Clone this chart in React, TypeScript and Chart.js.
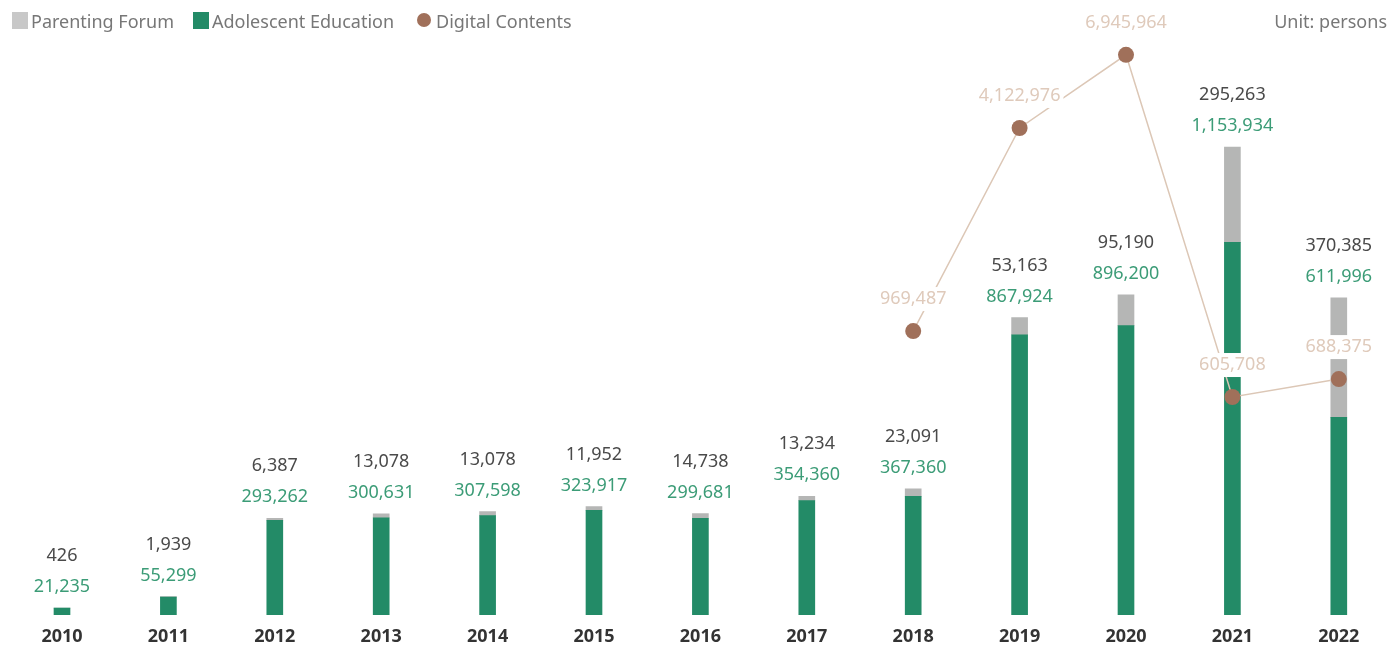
import React, { useEffect, useRef } from "react";
import { Chart, registerables } from "chart.js";

Chart.register(...registerables);

const years = ["2010", "2011", "2012", "2013", "2014", "2015", "2016", "2017", "2018", "2019", "2020", "2021", "2022"];
const parentingForum = [426, 1939, 6387, 13078, 13078, 11952, 14738, 13234, 23091, 53163, 95190, 295263, 370385];
const adolescentEducation = [21235, 55299, 293262, 300631, 307598, 323917, 299681, 354360, 367360, 867924, 896200, 1153934, 611996];
const digitalContents: (number | null)[] = [null, null, null, null, null, null, null, null, 969487, 4122976, 6945964, 605708, 688375];

const GREEN = "#238b67";
const GREY = "#b5b6b5";
const BROWN = "#a0705a";
const LINE = "#dcc7b6";
const GREEN_TEXT = "#3c9c77";
const DARK_TEXT = "#4a4a4a";
const LINE_TEXT = "#dfcabb";
const FONT = "'Noto Sans', sans-serif";

const fmt = (v: number) => v.toLocaleString("en-US");

const labelPlugin = {
  id: "valueLabels",
  afterDatasetsDraw(chart: any) {
    const ctx = chart.ctx;
    const x = chart.scales.x;
    const y = chart.scales.y;
    const y1 = chart.scales.y1;
    ctx.save();
    ctx.font = `18px ${FONT}`;
    ctx.textAlign = "center";
    ctx.textBaseline = "middle";
    years.forEach((_, i) => {
      const px = x.getPixelForValue(i);
      const top = y.getPixelForValue(adolescentEducation[i] + parentingForum[i]);
      ctx.fillStyle = GREEN_TEXT;
      ctx.fillText(fmt(adolescentEducation[i]), px, top - 21);
      ctx.fillStyle = DARK_TEXT;
      ctx.fillText(fmt(parentingForum[i]), px, top - 52);
    });
    digitalContents.forEach((v, i) => {
      if (v == null) return;
      const px = x.getPixelForValue(i);
      const py = y1.getPixelForValue(v) - 32;
      const t = fmt(v);
      const w = ctx.measureText(t).width + 6;
      ctx.fillStyle = "#ffffff";
      ctx.fillRect(px - w / 2, py - 12, w, 24);
      ctx.fillStyle = LINE_TEXT;
      ctx.fillText(t, px, py);
    });
    ctx.restore();
  },
};

const W = 1396;
const H = 652;

export default function App() {
  const ref = useRef<HTMLCanvasElement | null>(null);

  useEffect(() => {
    document.body.style.margin = "8px 0 0 0";
    document.body.style.overflow = "hidden";
    if (!ref.current) return;
    const chart = new Chart(ref.current, {
      type: "bar",
      data: {
        labels: years,
        datasets: [
          {
            type: "line",
            label: "Digital Contents",
            data: digitalContents,
            yAxisID: "y1",
            borderColor: LINE,
            borderWidth: 1.5,
            backgroundColor: BROWN,
            pointBackgroundColor: BROWN,
            pointBorderWidth: 0,
            pointRadius: 8,
            order: 0,
          } as any,
          {
            label: "Adolescent Education",
            data: adolescentEducation,
            backgroundColor: GREEN,
            stack: "s",
            barThickness: 16,
            yAxisID: "y",
            order: 1,
          },
          {
            label: "Parenting Forum",
            data: parentingForum,
            backgroundColor: GREY,
            stack: "s",
            barThickness: 16,
            yAxisID: "y",
            order: 2,
          },
        ],
      },
      options: {
        animation: false,
        responsive: false,
        maintainAspectRatio: false,
        layout: { autoPadding: false, padding: { top: 0, bottom: 1.4, left: 8.8, right: 4 } },
        plugins: {
          legend: { display: false },
          tooltip: { enabled: false },
        },
        scales: {
          x: {
            stacked: true,
            grid: { display: false, drawTicks: false },
            border: { display: false },
            ticks: {
              padding: 11,
              color: "#333333",
              font: { family: FONT, size: 18, weight: "bold" },
            },
          },
          y: {
            stacked: true,
            display: false,
            min: 0,
            max: 1880000,
          },
          y1: {
            type: "logarithmic",
            display: false,
            min: 128060,
            max: 9697000,
          },
        },
      },
      plugins: [labelPlugin],
    } as any);
    return () => chart.destroy();
  }, []);

  const legendText: React.CSSProperties = {
    position: "absolute",
    top: 0,
    height: 26,
    lineHeight: "26px",
    fontFamily: FONT,
    fontSize: 18,
    color: "#777777",
    whiteSpace: "nowrap",
  };

  return (
    <div style={{ position: "relative", width: W, height: H }}>
      <canvas ref={ref} width={W} height={H} style={{ display: "block", width: W, height: H }} />
      <div style={{ position: "absolute", left: 12, top: 4, width: 16, height: 17, background: "#c8c8c8" }} />
      <span style={{ ...legendText, left: 31 }}>Parenting Forum</span>
      <div style={{ position: "absolute", left: 193, top: 4, width: 16, height: 17, background: GREEN }} />
      <span style={{ ...legendText, left: 212 }}>Adolescent Education</span>
      <div style={{ position: "absolute", left: 417, top: 5, width: 14, height: 14, borderRadius: 7, background: BROWN }} />
      <span style={{ ...legendText, left: 436 }}>Digital Contents</span>
      <span style={{ ...legendText, left: "auto", right: 9 }}>Unit: persons</span>
    </div>
  );
}
